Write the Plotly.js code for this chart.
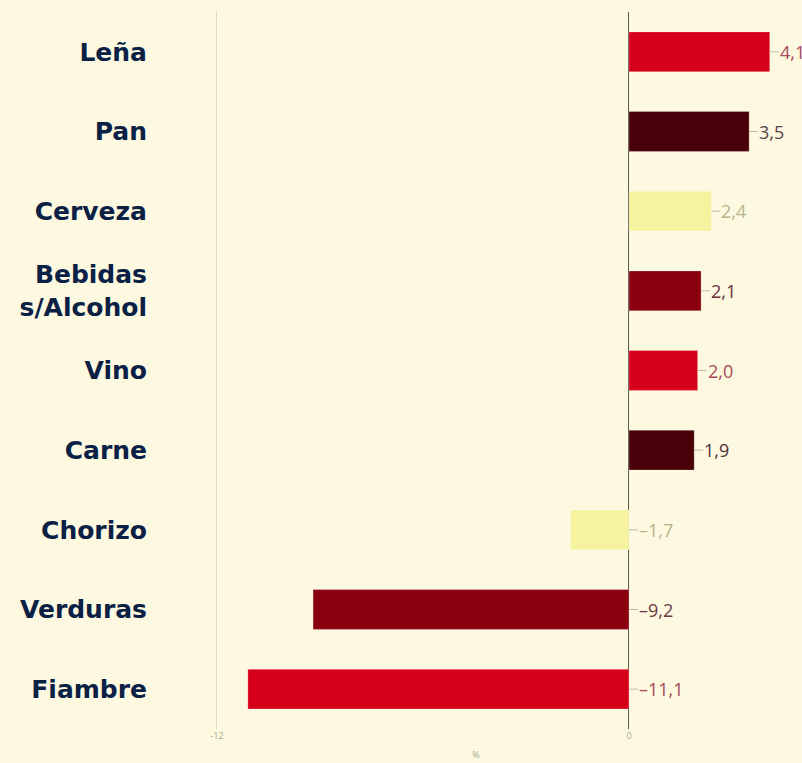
<!DOCTYPE html>
<html>
<head>
<meta charset="utf-8">
<script src="https://cdn.plot.ly/plotly-3.0.1.min.js"></script>
<style>
html,body{margin:0;padding:0;background:#FCF9E0;}
#chart{width:802px;height:763px;}
</style>
</head>
<body>
<div id="chart"></div>
<script>
// Data
const categories = ["Leña", "Pan", "Cerveza", "Bebidas<br>s/Alcohol", "Vino", "Carne", "Chorizo", "Verduras", "Fiambre"];
const values = [4.1, 3.5, 2.4, 2.1, 2.0, 1.9, -1.7, -9.2, -11.1];
const barColors = ["#D7001A", "#4A0008", "#F5F39E", "#8A000F", "#D7001A", "#4A0008", "#F5F39E", "#8A000F", "#D7001A"];
const labelColors = ["#A8485A", "#5A4448", "#B8B48C", "#6A3038", "#A8485A", "#4E3036", "#B8B48C", "#6A3840", "#A8485A"];
const xTickVals = [-12, 0];
const xTickText = ["-12", "0"];

function fmt(v) {
  const s = Math.abs(v).toFixed(1).replace(".", ",");
  return (v < 0 ? "–" : "") + s;
}

const trace = {
  type: "bar",
  orientation: "h",
  y: categories,
  x: values,
  width: 0.5,
  marker: {color: barColors, line: {color: "rgba(255,255,255,0.25)", width: 1}},
  hoverinfo: "none"
};

const annotations = values.map((v, i) => ({
  x: Math.max(v, 0),
  y: categories[i],
  xref: "x", yref: "y",
  text: fmt(v),
  showarrow: true,
  arrowhead: 0,
  arrowwidth: 1,
  arrowcolor: "#BDBBA8",
  ax: 9, ay: 0,
  standoff: 0,
  xanchor: "left",
  borderpad: 0,
  font: {family: "Open Sans, sans-serif", size: 18, color: labelColors[i]}
}));

const layout = {
  width: 802, height: 763,
  paper_bgcolor: "#FCF9E0",
  plot_bgcolor: "#FCF9E0",
  margin: {l: 150, r: 0, t: 12, b: 34},
  showlegend: false,
  bargap: 0.5,
  xaxis: {
    range: [-13.95, 5.04],
    tickvals: xTickVals,
    ticktext: xTickText,
    showgrid: true,
    gridcolor: "#DCD9C2",
    gridwidth: 1,
    zeroline: true,
    zerolinecolor: "#5A5A50",
    zerolinewidth: 1,
    ticks: "",
    tickfont: {family: "Open Sans, sans-serif", size: 9, color: "#A8A892"},
    title: {text: "%", font: {family: "Open Sans, sans-serif", size: 9, color: "#A8A892"}, standoff: 10},
    fixedrange: true
  },
  yaxis: {
    autorange: "reversed",
    showgrid: false,
    zeroline: false,
    ticks: "",
    ticklabelstandoff: 2,
    tickfont: {family: "DejaVu Sans, sans-serif", size: 25, color: "#0B2045", weight: "bold"},
    fixedrange: true
  },
  annotations: annotations
};

Plotly.newPlot("chart", [trace], layout, {displayModeBar: false, staticPlot: true});
</script>
</body>
</html>
